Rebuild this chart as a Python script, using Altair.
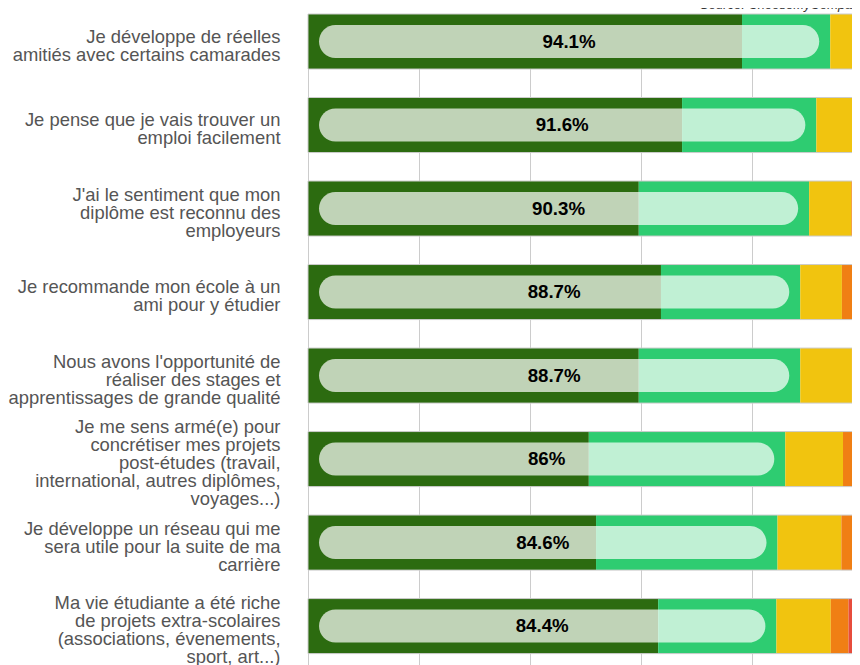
import altair as alt
import pandas as pd

categories = [
    "Je développe de réelles|amitiés avec certains camarades",
    "Je pense que je vais trouver un|emploi facilement",
    "J'ai le sentiment que mon|diplôme est reconnu des|employeurs",
    "Je recommande mon école à un|ami pour y étudier",
    "Nous avons l'opportunité de|réaliser des stages et|apprentissages de grande qualité",
    "Je me sens armé(e) pour|concrétiser mes projets|post-études (travail,|international, autres diplômes,|voyages...)",
    "Je développe un réseau qui me|sera utile pour la suite de ma|carrière",
    "Ma vie étudiante a été riche|de projets extra-scolaires|(associations, évenements,|sport, art...)",
]

segments = ["Très satisfait", "Satisfait", "Neutre", "Insatisfait", "Très insatisfait"]
seg_colors = ["#2c6b10", "#2ecc71", "#f1c40f", "#f07f14", "#e74c3c"]

very_satisfied = [78.2, 67.4, 59.6, 63.6, 59.6, 50.6, 51.9, 63.1]
satisfied = [15.9, 24.2, 30.7, 25.1, 29.1, 35.4, 32.7, 21.3]
neutral = [4.4, 6.9, 7.6, 7.5, 9.3, 10.4, 11.5, 9.8]
dissatisfied = [1.1, 1.0, 1.6, 2.1, 1.6, 2.9, 2.7, 3.2]
very_dissatisfied = [0.4, 0.5, 0.5, 1.7, 0.4, 0.7, 1.2, 2.6]

satisfaction = [94.1, 91.6, 90.3, 88.7, 88.7, 86, 84.6, 84.4]
satisfaction_labels = ["94.1%", "91.6%", "90.3%", "88.7%", "88.7%", "86%", "84.6%", "84.4%"]

source_text = "Source: ChooseMyCompany"

series = [very_satisfied, satisfied, neutral, dissatisfied, very_dissatisfied]
rows = []
for ci, cat in enumerate(categories):
    for si, seg in enumerate(segments):
        rows.append({"cat": cat, "segment": seg, "idx": si, "value": series[si][ci]})
df = pd.DataFrame(rows)

df_sat = pd.DataFrame({
    "cat": categories,
    "start": [0] * len(categories),
    "end": [100] * len(categories),
    "sat": satisfaction,
    "mid": [s / 2 for s in satisfaction],
    "label": satisfaction_labels,
})
df_src = pd.DataFrame({"t": [source_text]})

font = "Liberation Sans"

label_offset = {
    "condition": [
        {"test": "length(split(datum.value, '|')) == 3", "value": -14},
        {"test": "length(split(datum.value, '|')) == 4", "value": -23},
        {"test": "length(split(datum.value, '|')) == 5", "value": -32},
    ],
    "value": -5,
}

y_enc = alt.Y(
    "cat:N",
    sort=categories,
    scale=alt.Scale(paddingInner=0.341, paddingOuter=0.122, align=0),
    axis=alt.Axis(
        title=None,
        domain=False,
        ticks=False,
        grid=False,
        labelExpr="split(datum.label, '|')",
        labelFont=font,
        labelFontSize=18.4,
        labelColor="#555555",
        labelPadding=28,
        labelLimit=500,
        labelLineHeight=18,
        labelOffset=label_offset,
    ),
)

# plot is 544 px wide inside an 844 px page; 100 % lands just past the window edge
x_scale = alt.Scale(domain=[0, 98.02], nice=False)

bars = alt.Chart(df).mark_bar().encode(
    y=y_enc,
    x=alt.X(
        "value:Q",
        stack="zero",
        scale=x_scale,
        axis=alt.Axis(
            title=None,
            values=[0, 20, 40, 60, 80, 100],
            grid=True,
            gridColor="#cccccc",
            gridWidth=1,
            domain=False,
            ticks=False,
            labels=False,
        ),
    ),
    color=alt.Color("segment:N", scale=alt.Scale(domain=segments, range=seg_colors), legend=None),
    order=alt.Order("idx:Q"),
)

outline = alt.Chart(df_sat).mark_bar(
    fillOpacity=0, stroke="#cccccc", strokeWidth=1
).encode(
    y=alt.Y("cat:N", sort=categories),
    x=alt.X("start:Q", scale=x_scale),
    x2="end:Q",
)

pill = alt.Chart(df_sat).mark_bar(
    size=33, cornerRadius=16.5, color="white", opacity=0.7, xOffset=11, x2Offset=-11
).encode(
    y=alt.Y("cat:N", sort=categories),
    x=alt.X("start:Q", scale=x_scale),
    x2="sat:Q",
)

labels = alt.Chart(df_sat).mark_text(
    font=font, fontSize=18.7, fontWeight="bold", color="#000000"
).encode(
    y=alt.Y("cat:N", sort=categories),
    x=alt.X("mid:Q", scale=x_scale),
    text="label:N",
)

source = alt.Chart(df_src).mark_text(
    font=font, fontSize=13, fontStyle="italic", color="#333333", align="left", baseline="alphabetic"
).encode(
    x=alt.value(392),
    y=alt.value(-5),
    text="t:N",
)

chart = alt.layer(bars, outline, pill, labels, source).properties(
    width=544,
    height=660,
    autosize=alt.AutoSizeParams(type="none"),
    padding={"left": 300, "top": 6, "right": 0, "bottom": 0},
).configure_view(stroke=None)

chart.save("out.html", embed_options={"renderer": "svg", "actions": False})
